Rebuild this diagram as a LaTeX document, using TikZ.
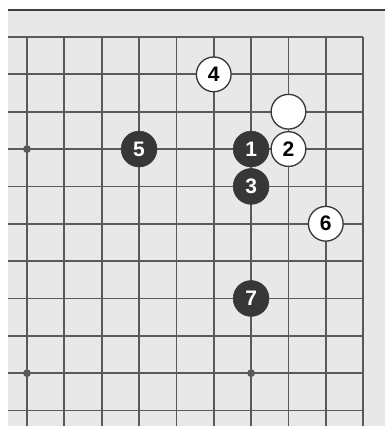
\documentclass[tikz,border=0pt]{standalone}
\usepackage{fontspec}
\setsansfont{Liberation Sans}
\usepackage{tikz}
\usetikzlibrary{positioning}
\definecolor{boardgray}{RGB}{232,232,232}
\definecolor{linegray}{RGB}{90,90,90}
\definecolor{stoneblack}{RGB}{55,55,55}

\begin{document}
\begin{tikzpicture}[
      blk/.style={circle,fill=stoneblack,draw=stoneblack,minimum size=0.96cm,inner sep=0pt,text=white,font=\sffamily\bfseries\fontsize{16}{16}\selectfont},
      wht/.style={circle,fill=white,draw=stoneblack,line width=1pt,minimum size=0.93cm,inner sep=0pt,text=black,font=\sffamily\bfseries\fontsize{16}{16}\selectfont},
      hoshi/.style={circle,fill=linegray,inner sep=0pt,minimum size=0.21cm}
    ]
    \useasboundingbox (-0.723,0.991) rectangle (9.585,-10.415);
    % board
    \fill[boardgray] (-0.509,0.723) rectangle (9.585,-10.415);
    \draw[linegray!70!black,line width=2.2pt] (-0.509,0.723) -- (9.585,0.723);
    \foreach \r in {0,...,10}
      \draw[linegray,line width=1.35pt] (-0.509,-\r) -- (9,-\r);
    \foreach \c in {0,...,9}
      \draw[linegray,line width=1.35pt] (\c,0) -- (\c,-10.415);
    % star points
    \node[hoshi] (hoshiA) at (0,-3) {};
    \node[hoshi] (hoshiB) at (0,-9) {};
    \node[hoshi] (hoshiC) at (6,-9) {};
    % stones
    \node[wht] (w0) at (7,-2) {};
    \node[blk] (b1) at (6,-3) {1};
    \node[wht] (w2) at (7,-3) {2};
    \node[blk] (b3) at (6,-4) {3};
    \node[wht] (w4) at (5,-1) {4};
    \node[blk] (b5) at (3,-3) {5};
    \node[wht] (w6) at (8,-5) {6};
    \node[blk] (b7) at (6,-7) {7};
  \end{tikzpicture}
\end{document}
